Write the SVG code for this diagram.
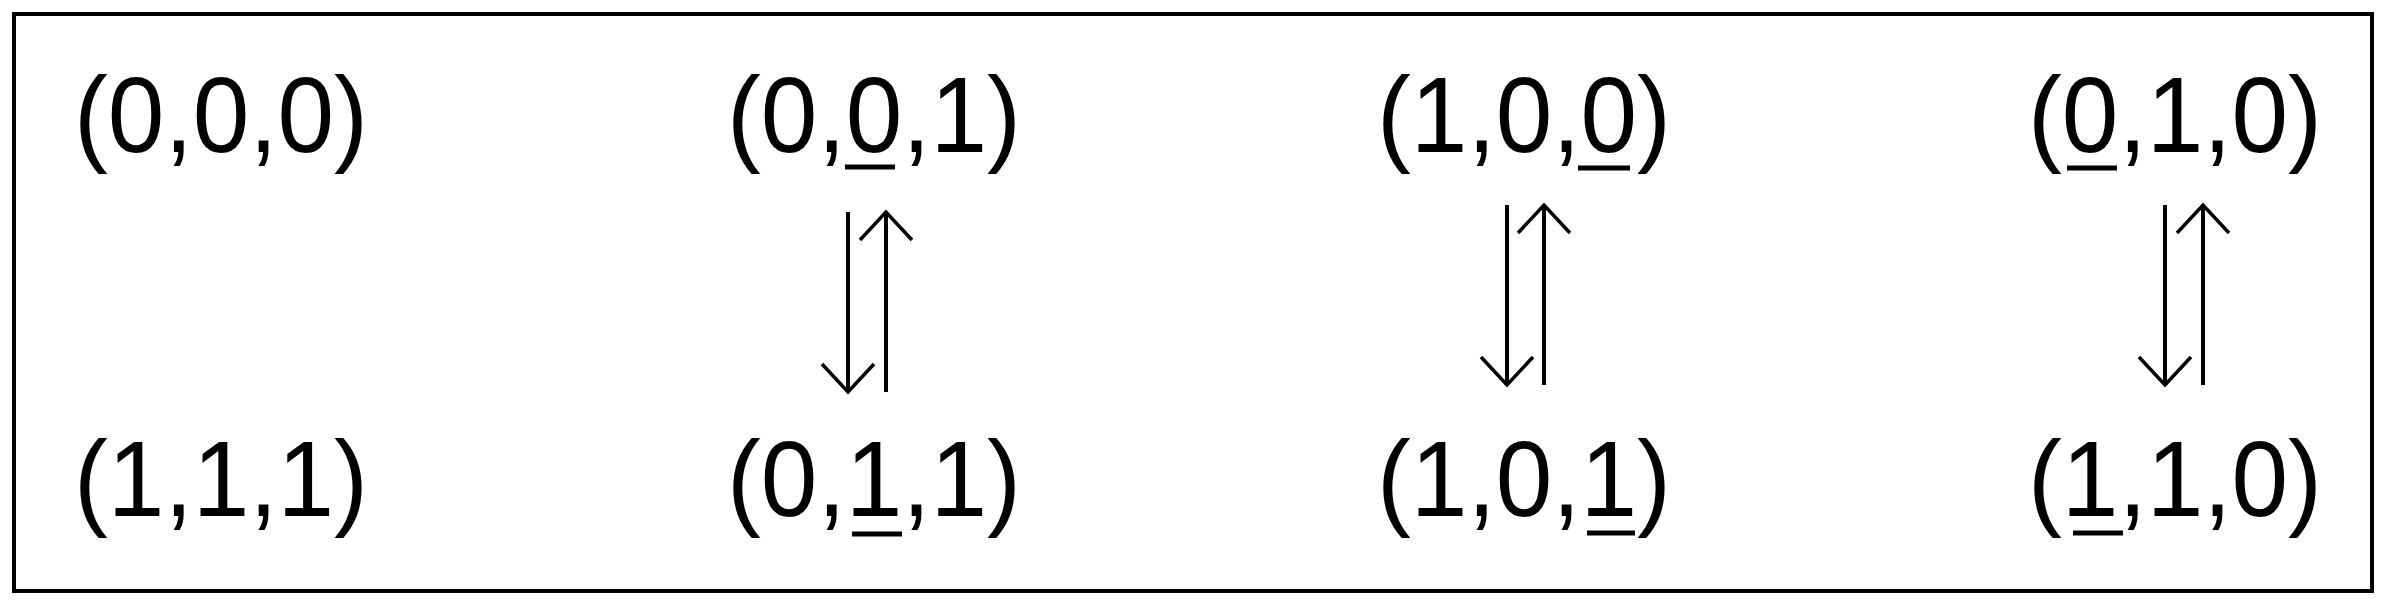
<svg xmlns="http://www.w3.org/2000/svg" width="2397" height="604" viewBox="0 0 2397 604">
<style>
.lbl{font-family:"Liberation Sans",Arial,sans-serif;font-size:107px;fill:#000;text-anchor:middle}
.ul{stroke:#000;stroke-width:5;fill:none}
.arr{stroke:#000;stroke-width:4;fill:none;marker-end:url(#chev)}
</style>
<defs>
<marker id="chev" markerUnits="userSpaceOnUse" viewBox="-3 -3 35 58" markerWidth="35" markerHeight="58" refX="28" refY="26" orient="auto">
<path d="M0,0 L28,26 L0,52" fill="none" stroke="#000" stroke-width="3.5"/>
</marker>
</defs>
<rect x="0" y="0" width="2397" height="604" fill="#fff"/>
<rect x="14" y="14" width="2358" height="577" fill="none" stroke="#000" stroke-width="4"/>
<g id="n000"><text class="lbl" x="221" y="152" textLength="294" lengthAdjust="spacingAndGlyphs">(0,0,0)</text></g>
<g id="n111"><text class="lbl" x="221" y="516" textLength="294" lengthAdjust="spacingAndGlyphs">(1,1,1)</text></g>
<g id="n001"><text class="lbl" x="874" y="152" textLength="294" lengthAdjust="spacingAndGlyphs">(0,0,1)</text><line class="ul" x1="845" y1="167" x2="895" y2="167"/></g>
<g id="n011"><text class="lbl" x="874" y="516" textLength="294" lengthAdjust="spacingAndGlyphs">(0,1,1)</text><line class="ul" x1="852" y1="534" x2="902" y2="534"/></g>
<g id="n100"><text class="lbl" x="1524" y="152" textLength="294" lengthAdjust="spacingAndGlyphs">(1,0,0)</text><line class="ul" x1="1578" y1="168" x2="1630" y2="168"/></g>
<g id="n101"><text class="lbl" x="1524" y="516" textLength="294" lengthAdjust="spacingAndGlyphs">(1,0,1)</text><line class="ul" x1="1587" y1="533" x2="1635" y2="533"/></g>
<g id="n010"><text class="lbl" x="2175" y="152" textLength="294" lengthAdjust="spacingAndGlyphs">(0,1,0)</text><line class="ul" x1="2067" y1="168" x2="2117" y2="168"/></g>
<g id="n110"><text class="lbl" x="2175" y="516" textLength="294" lengthAdjust="spacingAndGlyphs">(1,1,0)</text><line class="ul" x1="2073" y1="533" x2="2123" y2="533"/></g>
<g id="connectors">
<line class="arr" x1="848" y1="212" x2="848" y2="392"/>
<line class="arr" x1="886" y1="392" x2="886" y2="212"/>
<line class="arr" x1="1507" y1="205" x2="1507" y2="385"/>
<line class="arr" x1="1544" y1="385" x2="1544" y2="205"/>
<line class="arr" x1="2165" y1="205" x2="2165" y2="385"/>
<line class="arr" x1="2203" y1="385" x2="2203" y2="205"/>
</g>
</svg>
